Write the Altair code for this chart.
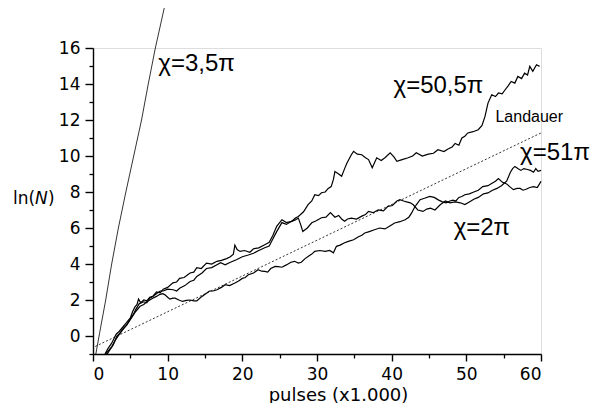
import altair as alt
import pandas as pd

# ---------------- data ----------------
chi_50_5 = [(1.6,-1.0),(2.0,-0.7),(2.5,-0.4),(2.8,-0.15),(3.1,0.1),(3.5,0.25),(4.0,0.5),(4.4,0.7),
            (5.0,1.0),(5.3,1.35),(5.6,1.6),(5.9,1.75),(6.1,2.05),(6.4,1.85),(6.8,2.0),(7.2,1.95),
            (7.6,2.15),(8.0,2.2),(8.5,2.45),(9.0,2.4),(9.4,2.6),(10.0,2.7),(10.7,2.95),(11.2,3.0),
            (11.6,3.2),(12.2,3.25),(13.0,3.5),(13.5,3.55),(13.9,3.8),(14.5,3.75),(15.2,4.05),(15.9,4.0),
            (16.6,4.15),(17.2,4.2),(17.9,4.3),(18.4,4.4),(18.8,4.55),(19.0,5.05),(19.3,4.8),(19.7,4.7),
            (20.3,4.75),(21.0,4.65),(21.5,4.85),(22.2,4.9),(23.0,5.07),(23.6,5.2),(24.1,5.6),(24.6,6.09),
            (25.3,6.46),(25.9,6.3),(26.6,6.37),(27.1,6.55),(27.5,6.64),(28.2,6.9),(28.8,7.3),(29.3,7.5),
            (29.7,7.85),(30.2,7.8),(30.6,7.96),(31.1,8.0),(31.5,8.2),(31.9,8.3),(32.2,8.7),(32.4,9.14),
            (32.9,9.0),(33.3,8.87),(33.7,9.3),(34.0,9.6),(34.6,10.07),(34.9,10.26),(35.4,10.1),(36.0,10.07),
            (36.5,9.9),(36.9,9.8),(37.4,9.35),(38.0,9.9),(38.6,9.75),(39.1,9.9),(39.8,10.18),(40.3,9.95),
            (40.7,9.7),(41.4,9.8),(42.2,9.9),(42.8,10.0),(43.3,10.18),(44.1,10.0),(44.9,10.1),(45.6,10.15),
            (46.2,10.35),(47.0,10.25),(47.6,10.4),(48.1,10.5),(48.5,10.7),(49.0,10.6),(49.4,11.0),(49.8,11.1),
            (50.2,11.28),(50.9,11.35),(51.6,11.46),(52.1,11.7),(52.5,12.2),(52.9,12.94),(53.4,13.4),(53.9,13.3),
            (54.3,13.5),(54.8,13.45),(55.2,13.68),(55.6,13.9),(56.0,14.14),(56.5,14.05),(56.9,14.42),(57.4,14.3),
            (57.8,14.6),(58.2,14.5),(58.5,14.98),(58.9,14.7),(59.4,15.07),(59.8,14.98)]

chi_51 = [(1.9,-1.0),(2.3,-0.75),(2.7,-0.5),(3.2,0.0),(3.6,0.15),(4.0,0.4),(4.5,0.6),(5.0,0.95),
          (5.4,1.2),(5.7,1.45),(6.2,1.8),(6.8,1.9),(7.2,1.85),(7.6,2.1),(8.0,2.2),(8.5,2.35),(9.0,2.5),
          (9.4,2.5),(10.0,2.6),(10.75,2.57),(11.2,2.5),(11.6,2.65),(12.3,2.8),(13.0,3.03),(13.5,3.1),
          (13.9,3.31),(14.6,3.5),(15.2,3.75),(15.9,3.8),(16.6,3.96),(17.1,4.07),(17.7,3.96),(18.4,4.1),
          (19.2,4.24),(20.0,4.4),(20.8,4.5),(21.5,4.6),(22.2,4.75),(23.0,4.9),(23.6,5.0),(24.1,5.4),
          (24.6,5.8),(25.3,6.3),(25.9,6.2),(26.6,6.37),(27.1,6.45),(27.5,6.55),(27.8,6.2),(28.1,5.81),
          (28.7,6.0),(29.3,6.29),(29.9,6.4),(30.6,6.57),(31.2,6.6),(31.8,6.85),(32.4,6.6),(32.9,6.7),
          (33.3,6.5),(33.7,6.37),(34.1,6.5),(34.6,6.55),(35.3,6.5),(36.0,6.66),(36.5,6.75),(36.9,6.92),
          (37.5,6.85),(38.2,7.0),(38.9,6.95),(39.5,7.2),(40.1,7.25),(40.7,7.5),(41.1,7.57),(41.6,7.5),
          (42.0,7.45),(42.5,7.4),(42.9,7.29),(43.5,7.0),(44.2,6.92),(44.7,7.05),(45.2,7.1),(45.8,7.0),
          (46.5,7.29),(47.2,7.5),(47.8,7.4),(48.5,7.45),(49.2,7.4),(49.8,7.3),(50.4,7.45),(51.0,7.6),
          (51.6,7.7),(52.3,7.9),(52.9,7.95),(53.5,8.1),(54.1,8.2),(54.7,8.35),(55.1,8.5),(55.4,8.6),
          (55.9,9.1),(56.2,9.3),(56.5,9.42),(56.9,9.3),(57.3,9.2),(57.7,9.3),(58.2,9.25),(58.6,9.2),
          (59.0,9.1),(59.3,9.3),(59.6,9.15),(60.0,9.2)]

chi_2 = [(1.7,-1.0),(2.1,-0.8),(2.5,-0.6),(2.9,-0.3),(3.2,-0.1),(3.6,0.15),(4.0,0.35),(4.5,0.6),
         (4.9,0.85),(5.3,1.1),(5.6,1.3),(6.0,1.5),(6.3,1.65),(6.8,1.75),(7.2,1.9),(7.6,2.0),(8.0,2.1),
         (8.5,2.2),(8.9,2.3),(9.3,2.35),(9.6,2.3),(10.0,2.15),(10.3,2.05),(10.7,2.1),(11.0,2.1),
         (11.5,2.0),(12.0,1.92),(12.5,1.98),(13.0,2.0),(13.5,1.95),(13.9,1.95),(14.3,2.1),(14.6,2.2),
         (15.1,2.35),(15.6,2.5),(16.1,2.5),(16.6,2.57),(17.2,2.7),(17.7,2.85),(18.3,2.8),(19.0,2.94),
         (19.5,3.05),(20.0,3.2),(20.4,3.25),(20.8,3.4),(21.5,3.5),(22.1,3.68),(22.6,3.6),(23.0,3.59),
         (23.4,3.55),(23.8,3.75),(24.4,3.87),(24.8,3.85),(25.3,3.82),(25.9,3.95),(26.5,4.1),(27.0,4.15),
         (27.5,4.05),(27.9,4.1),(28.4,4.3),(28.9,4.45),(29.3,4.55),(29.7,4.7),(30.4,4.75),(31.1,4.7),
         (31.7,4.75),(32.2,4.62),(32.6,4.98),(33.1,5.05),(33.7,5.18),(34.2,5.26),(34.9,5.35),(35.5,5.5),
         (36.0,5.6),(36.4,5.72),(37.0,5.8),(37.7,5.9),(38.4,6.0),(39.1,5.95),(39.7,6.1),(40.4,6.28),
         (41.1,6.35),(41.8,6.46),(42.3,6.6),(42.7,6.85),(43.0,7.1),(43.3,7.29),(43.8,7.57),(44.4,7.65),
         (45.1,7.76),(45.7,7.7),(46.3,7.55),(46.8,7.45),(47.3,7.4),(47.8,7.5),(48.2,7.55),(48.6,7.5),
         (49.0,7.7),(49.4,7.75),(49.8,7.85),(50.4,7.9),(51.0,8.0),(51.6,8.1),(52.2,8.3),(52.9,8.35),
         (53.5,8.5),(53.9,8.6),(54.3,8.75),(54.8,8.55),(55.4,8.45),(55.8,8.3),(56.3,8.13),(56.8,8.2),
         (57.2,8.2),(57.6,8.1),(58.0,8.15),(58.5,8.25),(59.0,8.3),(59.5,8.25),(59.8,8.45),(60.0,8.6)]

chi_3_5 = [(0.38,-1.0),(0.9,0.2),(1.7,2.0),(2.5,4.0),(3.4,6.0),(4.4,8.0),(5.45,10.0),
           (6.5,12.0),(7.4,14.0),(8.35,16.0),(9.8,18.7)]

landauer = [(0.3,-0.58),(60.0,11.28)]

x_major = [0, 10, 20, 30, 40, 50, 60]
x_minor = [5, 15, 25, 35, 45, 55]
y_major = [0, 2, 4, 6, 8, 10, 12, 14, 16]
y_minor = [-1, 1, 3, 5, 7, 9, 11, 13, 15]

chi_label_text = ["χ=3,5π", "χ=50,5π", "χ=51π", "χ=2π"]
chi_label_x = [8.75, 40.25, 57.2, 48.3]
chi_label_y = [15.1, 13.9, 10.15, 6.0]
land_label_text = ["Landauer"]
land_label_x = [53.9]
land_label_y = [12.15]

# ---------------- build tables ----------------
rows = []
for name, pts in (("50,5", chi_50_5), ("51", chi_51), ("2", chi_2)):
    for i, (x, y) in enumerate(pts):
        rows.append({"series": name, "i": i, "x": x, "y": y})
curves = pd.DataFrame(rows)
steep = pd.DataFrame([{"i": i, "x": x, "y": y} for i, (x, y) in enumerate(chi_3_5)])
land = pd.DataFrame([{"i": i, "x": x, "y": y} for i, (x, y) in enumerate(landauer)])
chi_lab = pd.DataFrame({"x": chi_label_x, "y": chi_label_y, "t": chi_label_text})
land_lab = pd.DataFrame({"x": land_label_x, "y": land_label_y, "t": land_label_text})

xs = alt.Scale(domain=[0, 60], nice=False, zero=False)
ys = alt.Scale(domain=[-1, 16], nice=False, zero=False)

common = dict(domainColor="black", tickColor="black", labelColor="black", grid=False,
              labelFont="DejaVu Sans", labelFontSize=17, domainWidth=1.4, tickWidth=1.4)

x_major_axis = alt.Axis(values=x_major, orient="bottom", tickSize=7, labelPadding=5, format="d",
                        title="pulses (x1.000)", titleFont="DejaVu Sans", titleFontSize=18,
                        titleFontWeight="normal", titleColor="black", titleX=245, titleY=46,
                        titleBaseline="alphabetic", titleAlign="center", **common)
y_major_axis = alt.Axis(values=y_major, orient="left", tickSize=8, labelPadding=5, format="d",
                        title="", **common)
x_minor_axis = alt.Axis(values=x_minor, orient="bottom", tickSize=4, labels=False, domain=False,
                        title="", grid=False, tickColor="black", tickWidth=1.3)
y_minor_axis = alt.Axis(values=y_minor, orient="left", tickSize=4, labels=False, domain=False,
                        title="", grid=False, tickColor="black", tickWidth=1.3)

main = alt.Chart(curves).mark_line(color="black", strokeWidth=1.2).encode(
    x=alt.X("x:Q", scale=xs, axis=x_major_axis),
    y=alt.Y("y:Q", scale=ys, axis=y_major_axis),
    detail="series:N",
    order="i:Q",
)

steep_line = alt.Chart(steep).mark_line(color="black", strokeWidth=0.8, clip=False).encode(
    x=alt.X("x:Q", scale=xs, axis=x_minor_axis),
    y=alt.Y("y:Q", scale=ys, axis=y_minor_axis),
    order="i:Q",
)

land_line = alt.Chart(land).mark_line(color="black", strokeWidth=0.8, strokeDash=[2, 2]).encode(
    x=alt.X("x:Q", scale=xs, axis=None),
    y=alt.Y("y:Q", scale=ys, axis=None),
    order="i:Q",
)

chi_text = alt.Chart(chi_lab).mark_text(font="Liberation Sans", fontSize=24, align="left",
                                         baseline="middle", color="black").encode(
    x=alt.X("x:Q", scale=xs, axis=None),
    y=alt.Y("y:Q", scale=ys, axis=None),
    text="t:N",
)

land_text = alt.Chart(land_lab).mark_text(font="Liberation Sans", fontSize=16, align="left",
                                           baseline="middle", color="black").encode(
    x=alt.X("x:Q", scale=xs, axis=None),
    y=alt.Y("y:Q", scale=ys, axis=None),
    text="t:N",
)

ylab1 = alt.Chart(pd.DataFrame({"t": ["ln("]})).mark_text(
    font="DejaVu Sans", fontSize=17, align="left", baseline="middle", color="black").encode(
    x=alt.value(-80), y=alt.value(151), text="t:N")
ylab2 = alt.Chart(pd.DataFrame({"t": ["N"]})).mark_text(
    font="DejaVu Sans", fontSize=17, fontStyle="italic", align="left", baseline="middle",
    color="black").encode(x=alt.value(-58), y=alt.value(151), text="t:N")
ylab3 = alt.Chart(pd.DataFrame({"t": [")"]})).mark_text(
    font="DejaVu Sans", fontSize=17, align="left", baseline="middle", color="black").encode(
    x=alt.value(-45), y=alt.value(151), text="t:N")

chart = alt.layer(main, steep_line, land_line, chi_text, land_text, ylab1, ylab2, ylab3).resolve_axis(
    x="independent", y="independent"
).properties(
    width=448, height=306,
    autosize=alt.AutoSizeParams(type="none"),
    padding={"left": 85, "top": 40, "right": 54, "bottom": 49},
).configure_view(stroke=None).configure(background="white")

chart.save("out.html", embed_options={"renderer": "svg", "actions": False})
